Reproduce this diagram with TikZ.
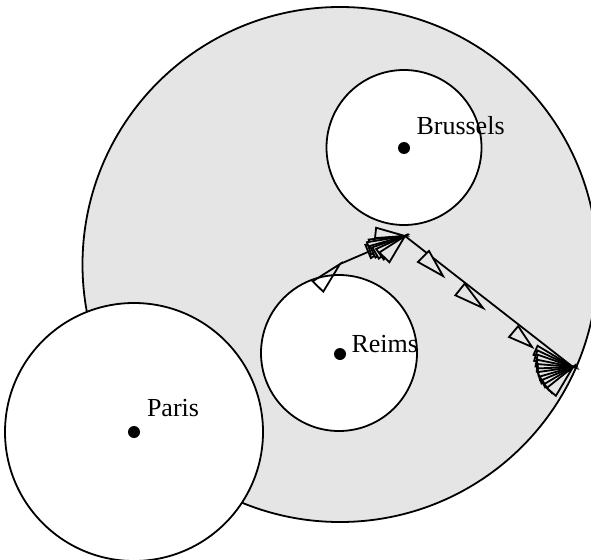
\documentclass[tikz,border=0pt]{standalone}
\usepackage{fontspec}
\setmainfont{Liberation Serif}
\definecolor{areagray}{gray}{0.9}
\begin{document}
\begin{tikzpicture}[x=1pt,y=-1pt,
  every node/.style={inner sep=0pt, outer sep=0pt},
  outline/.style={line width=1.8pt},
  region/.style={circle, draw, outline, minimum size=#1},
  city/.style={circle, fill=black, minimum size=12pt},
  cityname/.style={anchor=base west, font=\fontsize{26}{30}\selectfont},
  link/.style={draw, outline},
  headline/.style={draw, outline, fill=areagray, line join=miter},
  pics/ahead/.style 2 args={code={\path[headline] (0,0) -- (-#1,#2) -- (-#1,-#2) -- cycle;}}
]
\useasboundingbox (0,0) rectangle (591,559);

% surrounding area and the three city disks
\node[region=515pt, fill=areagray] (area) at (340,264.5) {};
\node[region=155pt, fill=white] (brudisk) at (404,147.5) {};
\node[region=156pt, fill=white] (reidisk) at (339,353) {};

% route end points
\coordinate (r1s) at (340,264);
\coordinate (r1e) at (405,236);
\coordinate (r2e) at (573,367);

% connectors
\path[link] (r1s) -- (r1e);
\path[link] (r1e) -- (r2e);

% arrow heads on the first route (the first one is left open)
\pic[rotate=45.6, headline/.append style={fill=none}] at (r1s) {ahead={31.5}{7.4}};
\pic[rotate=-6]   at (r1e) {ahead={29.6}{5.2}};
\pic[rotate=15]   at (r1e) {ahead={36}{6}};
\pic[rotate=22.7] at (r1e) {ahead={40}{7.2}};
\pic[rotate=19]   at (r1e) {ahead={38}{6.5}};
\pic[rotate=26]   at (r1e) {ahead={36}{6.5}};
\pic[rotate=30]   at (r1e) {ahead={34}{6.5}};
\pic[rotate=36]   at (r1e) {ahead={31}{6.5}};
\pic[rotate=46]   at (r1e) {ahead={29.7}{7}};

% arrow heads on the second route
\pic[rotate=-45]  at (443,276) {ahead={27.6}{7.8}};
\pic[rotate=-38.8] at (483,308) {ahead={29.5}{7.4}};
\pic[rotate=-40]  at (532,347) {ahead={24}{7.1}};
\pic[rotate=-24]  at (r2e) {ahead={41}{5}};
\pic[rotate=-17]  at (r2e) {ahead={39}{5.5}};
\pic[rotate=-10]  at (r2e) {ahead={37}{6}};
\pic[rotate=-2]   at (r2e) {ahead={36}{6}};
\pic[rotate=5]    at (r2e) {ahead={35}{6}};
\pic[rotate=12]   at (r2e) {ahead={35}{6}};
\pic[rotate=18]   at (r2e) {ahead={35}{6}};
\pic[rotate=26]   at (r2e) {ahead={34}{6}};
\pic[rotate=33]   at (r2e) {ahead={33}{6}};
\pic[rotate=41]   at (r2e) {ahead={33}{6}};
\pic[rotate=49]   at (r2e) {ahead={33}{6}};

% Paris disk lies over the area
\node[region=258pt, fill=white] (pardisk) at (134,432) {};

% cities and their names
\node[city] (bru) at (404,148) {};
\node[city] (rei) at (340,354) {};
\node[city] (par) at (134,432) {};
\node[cityname] (bruname) at (416.5,135) {Brussels};
\node[cityname] (reiname) at (351.5,352) {Reims};
\node[cityname] (parname) at (147,416) {Paris};
\end{tikzpicture}
\end{document}
